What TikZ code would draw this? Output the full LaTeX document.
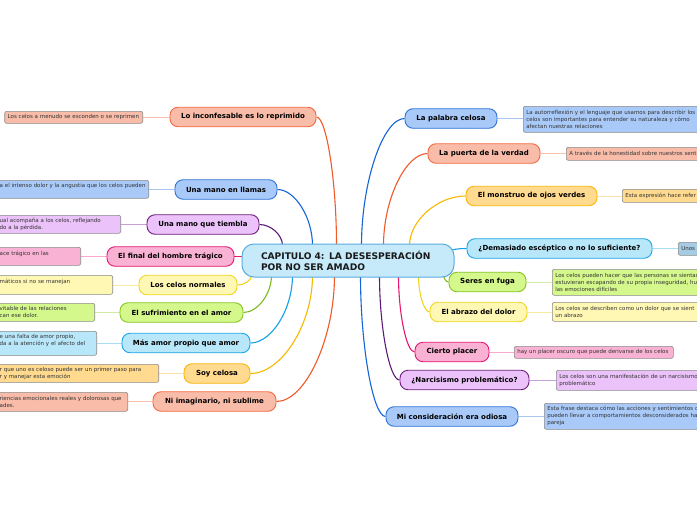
\documentclass[tikz,border=0pt]{standalone}
\usepackage{fontspec}
\setmainfont{DejaVu Sans}
\usetikzlibrary{calc,backgrounds}
\definecolor{salF}{HTML}{F8BCA9}\definecolor{salD}{HTML}{F26A42}\definecolor{salL}{HTML}{F05A28}\definecolor{salNL}{HTML}{F9C0B0}
\definecolor{bluF}{HTML}{A9CAF9}\definecolor{bluD}{HTML}{2F73D9}\definecolor{bluL}{HTML}{1565D8}\definecolor{bluNL}{HTML}{A8C8F0}
\definecolor{purF}{HTML}{EBC2F9}\definecolor{purD}{HTML}{6E1E7E}\definecolor{purL}{HTML}{5E1A78}\definecolor{purNL}{HTML}{C8A0D8}
\definecolor{pinF}{HTML}{F9B2D3}\definecolor{pinD}{HTML}{E8176F}\definecolor{pinL}{HTML}{E8176F}\definecolor{pinNL}{HTML}{F7A8CC}
\definecolor{yelF}{HTML}{FFF8B4}\definecolor{yelD}{HTML}{F2D41F}\definecolor{yelL}{HTML}{F0D41E}\definecolor{yelNL}{HTML}{F8EAA0}
\definecolor{greF}{HTML}{D5F88C}\definecolor{greD}{HTML}{86C424}\definecolor{greL}{HTML}{7DBA1E}\definecolor{greNL}{HTML}{D0EAA8}
\definecolor{cyaF}{HTML}{B9E7FA}\definecolor{cyaD}{HTML}{1BA5E9}\definecolor{cyaL}{HTML}{12A0E8}\definecolor{cyaNL}{HTML}{A9DDF4}\definecolor{cyaN}{HTML}{A6CCE4}
\definecolor{ambF}{HTML}{FFDA8F}\definecolor{ambD}{HTML}{F8B70A}\definecolor{ambL}{HTML}{F9B800}\definecolor{ambNL}{HTML}{FCE1A8}
\definecolor{ctrF}{HTML}{C6EAFA}\definecolor{ctrD}{HTML}{5AACE0}
\definecolor{notegray}{HTML}{8A8A8A}\definecolor{notetext}{HTML}{333333}
\newcommand\mmlink[3]{\draw[link,#1] (#2) .. controls ($(#2)!0.5!(#2|-#3)$) and ($(#3)!0.5!(#2|-#3)$) .. (#3);}
\begin{document}
\begin{tikzpicture}[x=1pt,y=-1pt,
  topic/.style={draw, line width=0.9pt, rounded corners=8pt, minimum height=19.5pt, inner sep=0pt,
    font=\bfseries\fontsize{7}{8}\selectfont, text=black},
  note/.style={draw=notegray, line width=0.6pt, rounded corners=2pt, inner xsep=3pt, inner ysep=1pt,
    font=\fontsize{5.5}{7}\selectfont, text=notetext, align=left},
  link/.style={line width=1.1pt},
  nlink/.style={line width=0.9pt},
  sal/.style={fill=salF, draw=salD}, blu/.style={fill=bluF, draw=bluD}, pur/.style={fill=purF, draw=purD},
  pin/.style={fill=pinF, draw=pinD}, yel/.style={fill=yelF, draw=yelD}, gre/.style={fill=greF, draw=greD},
  cya/.style={fill=cyaF, draw=cyaD}, amb/.style={fill=ambF, draw=ambD},
  lnote/.style={note, anchor=north east}, rnote/.style={note, anchor=north west, text width=250pt}
]
\useasboundingbox (0,0) rectangle (697,520);
% central node
\node[draw=ctrD, fill=ctrF, line width=1pt, rounded corners=12pt, text width=188pt, minimum height=33pt,
  inner xsep=12pt, inner ysep=0pt, align=left, font=\bfseries\fontsize{9.1}{11}\selectfont, text=black!90] (ctr) at (348,260.5)
  {\hspace*{7pt}CAPITULO 4: LA DESESPERACIÓN\\\hspace*{7pt}POR NO SER AMADO};
% left topics
\node[topic, sal, minimum width=146pt] (L1) at (243,117) {Lo inconfesable es lo reprimido};
\node[topic, blu, minimum width=102pt] (L2) at (226,189.5) {Una mano en llamas};
\node[topic, pur, minimum width=112pt] (L3) at (203,224.5) {Una mano que tiembla};
\node[topic, pin, minimum width=127pt] (L4) at (170.5,256.5) {El final del hombre trágico};
\node[topic, yel, minimum width=98pt] (L5) at (188,285) {Los celos normales};
\node[topic, gre, minimum width=123pt] (L6) at (181.5,312.5) {El sufrimiento en el amor};
\node[topic, cya, minimum width=128pt] (L7) at (186,343) {Más amor propio que amor};
\node[topic, amb, minimum width=66pt] (L8) at (217,373.5) {Soy celosa};
\node[topic, sal, minimum width=123pt] (L9) at (214.5,401.5) {Ni imaginario, ni sublime};
% right topics
\node[topic, blu, minimum width=92pt] (R1) at (451,118.5) {La palabra celosa};
\node[topic, sal, minimum width=112pt] (R2) at (484,153.5) {La puerta de la verdad};
\node[topic, amb, minimum width=131pt] (R3) at (531.5,196) {El monstruo de ojos verdes};
\node[topic, cya, minimum width=185pt] (R4) at (559.5,248.5) {¿Demasiado escéptico o no lo suficiente?};
\node[topic, gre, minimum width=77pt] (R5) at (487.5,282) {Seres en fuga};
\node[topic, yel, minimum width=97pt] (R6) at (478.5,312) {El abrazo del dolor};
\node[topic, pin, minimum width=74pt] (R7) at (452,352) {Cierto placer};
\node[topic, pur, minimum width=129pt] (R8) at (464.5,380) {¿Narcisismo problemático?};
\node[topic, blu, minimum width=132pt] (R9) at (452,416.5) {Mi consideración era odiosa};
% left notes
\node[lnote, fill=salF, text width=132pt, minimum height=12pt] (L1n) at (143,111) {Los celos a menudo se esconden o se reprimen};
\node[lnote, fill=bluF, text width=146pt, minimum height=18pt] (L2n) at (149,180) {a el intenso dolor y la angustia que los celos pueden\\\mbox{}};
\node[lnote, fill=purF, text width=118pt, minimum height=18pt] (L3n) at (121,215) {ual acompaña a los celos, reflejando\\do a la pérdida.};
\node[lnote, fill=pinF, text width=78pt, minimum height=18pt] (L4n) at (81,247) {ace trágico en las\\\mbox{}};
\node[lnote, fill=yelF, text width=110pt, minimum height=19pt] (L5n) at (113,275) {máticos si no se manejan\\\mbox{}};
\node[lnote, fill=greF, text width=92pt, minimum height=18pt] (L6n) at (95,303) {vitable de las relaciones\\can ese dolor.};
\node[lnote, fill=cyaF, text width=94pt, minimum height=24pt] (L7n) at (97,331) {e una falta de amor propio,\\da a la atención y el afecto del\\\mbox{}};
\node[lnote, fill=ambF, text width=156pt, minimum height=18pt] (L8n) at (159,364) {r que uno es celoso puede ser un primer paso para\\r y manejar esta emoción};
\node[lnote, fill=salF, text width=125pt, minimum height=19pt] (L9n) at (128,392) {riencias emocionales reales y dolorosas que\\ades.};
% right notes
\node[rnote, fill=bluF, minimum height=26pt] (R1n) at (523,106) {La autorreflexión y el lenguaje que usamos para describir los\\celos son importantes para entender su naturaleza y cómo\\afectan nuestras relaciones};
\node[rnote, fill=salF, minimum height=13pt] (R2n) at (566,147) {A través de la honestidad sobre nuestros sent};
\node[rnote, fill=ambF, minimum height=13pt] (R3n) at (622,189) {Esta expresión hace refer};
\node[rnote, fill=cyaN, minimum height=13pt] (R4n) at (678,242) {Unos};
\node[rnote, fill=greF, minimum height=26pt] (R5n) at (552,269) {Los celos pueden hacer que las personas se sientan\\estuvieran escapando de su propia inseguridad, hu\\las emociones difíciles};
\node[rnote, fill=yelF, minimum height=19pt] (R6n) at (552,302) {Los celos se describen como un dolor que se sient\\un abrazo};
\node[note, anchor=north west, fill=pinF, text width=153pt, minimum height=12pt] (R7n) at (514,346) {hay un placer oscuro que puede derivarse de los celos};
\node[rnote, fill=purF, minimum height=20pt] (R8n) at (556,370) {Los celos son una manifestación de un narcisismo\\problemático};
\node[rnote, fill=bluF, minimum height=26pt] (R9n) at (544,403) {Esta frase destaca cómo las acciones y sentimientos c\\pueden llevar a comportamientos desconsiderados ha\\pareja};
% start points on the central node
\coordinate (sL3) at ($(ctr.north west)+(41,2)$);
\coordinate (sL2) at ($(ctr.north west)+(71,2)$);
\coordinate (sL1) at ($(ctr.north west)+(95,2)$);
\coordinate (sR1) at ($(ctr.north west)+(120,2)$);
\coordinate (sR2) at ($(ctr.north west)+(142,2)$);
\coordinate (sR3) at ($(ctr.north west)+(168,2)$);
\coordinate (sR4) at ($(ctr.north east)+(-3,7)$);
\coordinate (sL4) at ($(ctr.west |- L4.east)+(3,0)$);
\coordinate (sL5) at ($(ctr.south west)+(10,-2)$);
\coordinate (sL6) at ($(ctr.south west)+(30,-2)$);
\coordinate (sL7) at ($(ctr.south west)+(51,-2)$);
\coordinate (sL8) at ($(ctr.south west)+(71,-2)$);
\coordinate (sL9) at ($(ctr.south west)+(93,-2)$);
\coordinate (sR9) at ($(ctr.south west)+(119,-2)$);
\coordinate (sR8) at ($(ctr.south west)+(138,-2)$);
\coordinate (sR7) at ($(ctr.south west)+(157,-2)$);
\coordinate (sR6) at ($(ctr.south west)+(177,-2)$);
\coordinate (sR5) at ($(ctr.south west)+(202,-3)$);
\begin{scope}[on background layer]
\fill[white] (0,0) rectangle (697,520);
\mmlink{salL}{sL1}{L1.east}
\mmlink{bluL}{sL2}{L2.east}
\mmlink{purL}{sL3}{L3.east}
\draw[link,pinL] (sL4) -- (L4.east);
\mmlink{yelL}{sL5}{L5.east}
\mmlink{greL}{sL6}{L6.east}
\mmlink{cyaL}{sL7}{L7.east}
\mmlink{ambL}{sL8}{L8.east}
\mmlink{salL}{sL9}{L9.east}
\mmlink{bluL}{sR1}{R1.west}
\mmlink{salL}{sR2}{R2.west}
\mmlink{ambL}{sR3}{R3.west}
\mmlink{cyaL}{sR4}{R4.west}
\mmlink{greL}{sR5}{R5.west}
\mmlink{yelL}{sR6}{R6.west}
\mmlink{pinL}{sR7}{R7.west}
\mmlink{purL}{sR8}{R8.west}
\mmlink{bluL}{sR9}{R9.west}
% note links
\draw[nlink,salNL] (L1.west) -- (L1.west -| L1n.east);
\draw[nlink,bluNL] (L2.west) -- (L2.west -| L2n.east);
\draw[nlink,purNL] (L3.west) -- (L3.west -| L3n.east);
\draw[nlink,pinNL] (L4.west) -- (L4.west -| L4n.east);
\draw[nlink,yelNL] (L5.west) -- (L5.west -| L5n.east);
\draw[nlink,greNL] (L6.west) -- (L6.west -| L6n.east);
\draw[nlink,cyaNL] (L7.west) -- (L7.west -| L7n.east);
\draw[nlink,ambNL] (L8.west) -- (L8.west -| L8n.east);
\draw[nlink,salNL] (L9.west) -- (L9.west -| L9n.east);
\draw[nlink,bluNL] (R1.east) -- (R1.east -| R1n.west);
\draw[nlink,salNL] (R2.east) -- (R2.east -| R2n.west);
\draw[nlink,ambNL] (R3.east) -- (R3.east -| R3n.west);
\draw[nlink,cyaNL] (R4.east) -- (R4.east -| R4n.west);
\draw[nlink,greNL] (R5.east) -- (R5.east -| R5n.west);
\draw[nlink,yelNL] (R6.east) -- (R6.east -| R6n.west);
\draw[nlink,pinNL] (R7.east) -- (R7.east -| R7n.west);
\draw[nlink,purNL] (R8.east) -- (R8.east -| R8n.west);
\draw[nlink,bluNL] (R9.east) -- (R9.east -| R9n.west);
\end{scope}
\end{tikzpicture}
\end{document}
